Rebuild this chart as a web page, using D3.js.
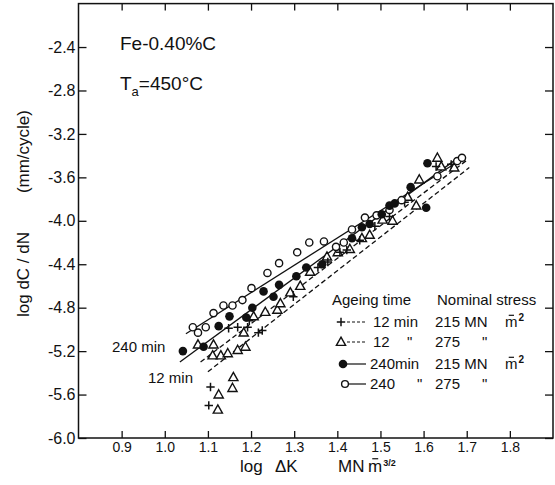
<!DOCTYPE html>
<html>
<head>
<meta charset="utf-8">
<script src="https://cdn.jsdelivr.net/npm/d3@7"></script>
<style>
  body { margin: 0; background: #fff; }
  text { font-family: "Liberation Sans", Arial, sans-serif; fill: #111; }
</style>
</head>
<body>
<div id="chart"></div>
<script>
// Fe-0.40%C aged at 450 C : log dC/dN (mm/cycle) against log dK (MN m^-3/2)
const xTicks = [0.9, 1.0, 1.1, 1.2, 1.3, 1.4, 1.5, 1.6, 1.7, 1.8];
const yTicks = [-2.4, -2.8, -3.2, -3.6, -4.0, -4.4, -4.8, -5.2, -5.6, -6.0];

// [log dK, log dC/dN]
const plus12 = [ // 12 min, 215 MN m-2
  [1.106, -5.53], [1.102, -5.70], [1.148, -4.99], [1.169, -4.98], [1.192, -4.98],
  [1.196, -4.92], [1.217, -5.03], [1.226, -5.01], [1.298, -4.70], [1.355, -4.43],
  [1.378, -4.38], [1.406, -4.29], [1.422, -4.27], [1.452, -4.18], [1.487, -4.05],
  [1.521, -3.96], [1.556, -3.83], [1.629, -3.50], [1.664, -3.48]
];
const tri12 = [ // 12 min, 275 MN m-2
  [1.077, -5.14], [1.113, -5.14], [1.111, -5.24], [1.130, -5.24], [1.146, -5.22],
  [1.169, -5.19], [1.187, -5.16], [1.183, -5.03], [1.206, -4.88], [1.233, -4.84],
  [1.261, -4.82], [1.268, -4.76], [1.291, -4.66], [1.314, -4.60], [1.337, -4.47],
  [1.376, -4.33], [1.401, -4.29], [1.429, -4.26], [1.457, -4.16], [1.475, -4.13],
  [1.505, -3.99], [1.528, -4.00], [1.563, -3.78], [1.583, -3.86], [1.590, -3.62],
  [1.632, -3.42], [1.641, -3.50], [1.671, -3.51],
  [1.159, -5.44], [1.157, -5.54], [1.125, -5.60], [1.123, -5.74]
];
const dot240 = [ // 240 min, 215 MN m-2
  [1.042, -5.20], [1.090, -5.16], [1.125, -4.97], [1.150, -4.88], [1.189, -4.89],
  [1.203, -4.80], [1.229, -4.65], [1.252, -4.70], [1.265, -4.59], [1.305, -4.51],
  [1.328, -4.43], [1.365, -4.40], [1.434, -4.16], [1.457, -4.06], [1.475, -4.03],
  [1.503, -3.94], [1.521, -3.86], [1.533, -3.84], [1.570, -3.69], [1.606, -3.88],
  [1.609, -3.47]
];
const ring240 = [ // 240 min, 275 MN m-2
  [1.065, -4.98], [1.077, -5.03], [1.095, -4.98], [1.113, -4.85], [1.136, -4.78],
  [1.157, -4.78], [1.180, -4.73], [1.201, -4.62], [1.238, -4.48], [1.265, -4.39],
  [1.307, -4.29], [1.335, -4.20], [1.369, -4.19], [1.397, -4.24], [1.415, -4.20],
  [1.434, -4.08], [1.464, -3.97], [1.491, -3.95], [1.521, -3.90], [1.549, -3.81],
  [1.632, -3.59], [1.678, -3.45], [1.689, -3.42]
];

// fitted lines, end points
const fit240_275 = [[1.049, -5.04], [1.694, -3.42]];
const fit240_215 = [[1.035, -5.30], [1.687, -3.40]];
const fit12_215 = [[1.083, -5.30], [1.701, -3.44]];
const fit12_275 = [[1.100, -5.39], [1.706, -3.51]];

const ink = "#111";

const svg = d3.select("#chart").append("svg")
  .attr("width", 555).attr("height", 485);

const x = d3.scaleLinear().domain([0.8, 1.9]).range([78.5, 553]);
const y = d3.scaleLinear().domain([-6.0, -2.0]).range([438, 3.6]);

function styleAxis(g, size) {
  g.select(".domain").remove();
  g.selectAll(".tick line").attr("stroke", ink).attr("stroke-width", 1.3);
  g.selectAll(".tick text").attr("fill", ink)
    .style("font-size", size + "px")
    .style("font-family", '"Liberation Sans", Arial, sans-serif');
}

// axes, ticks pointing inward on all four sides
svg.append("g").attr("transform", `translate(${x(0.8)},0)`)
  .call(d3.axisLeft(y).tickValues(yTicks).tickSize(-8).tickPadding(3).tickFormat(d => d.toFixed(1)))
  .call(g => styleAxis(g, 16));
svg.append("g").attr("transform", `translate(${x(1.9)},0)`)
  .call(d3.axisRight(y).tickValues(yTicks).tickSize(-8).tickFormat(""))
  .call(g => styleAxis(g, 16));
svg.append("g").attr("transform", `translate(0,${y(-6.0)})`)
  .call(d3.axisBottom(x).tickValues(xTicks).tickSize(-7).tickPadding(4).tickFormat(d => d.toFixed(1)))
  .call(g => styleAxis(g, 14));
svg.append("g").attr("transform", `translate(0,${y(-2.0)})`)
  .call(d3.axisTop(x).tickValues(xTicks).tickSize(-7).tickFormat(""))
  .call(g => styleAxis(g, 14));

svg.append("rect")
  .attr("x", x(0.8)).attr("y", y(-2.0))
  .attr("width", x(1.9) - x(0.8)).attr("height", y(-6.0) - y(-2.0))
  .attr("fill", "none").attr("stroke", ink).attr("stroke-width", 1.5);

// fit lines
const line = d3.line().x(d => x(d[0])).y(d => y(d[1]));
const fits = [
  {pts: fit240_275, dash: null},
  {pts: fit240_215, dash: null},
  {pts: fit12_215, dash: "5,3"},
  {pts: fit12_275, dash: "5,3"}
];
svg.selectAll(".fit").data(fits).join("path")
  .attr("class", "fit")
  .attr("d", d => line(d.pts))
  .attr("fill", "none").attr("stroke", ink).attr("stroke-width", 1.3)
  .attr("stroke-dasharray", d => d.dash);

// markers
const triPath = "M0,-4.8L4.6,3.4L-4.6,3.4Z";
const plusPath = "M-4.2,0H4.2M0,-4.2V4.2";

svg.append("g").selectAll("path").data(tri12).join("path")
  .attr("transform", d => `translate(${x(d[0])},${y(d[1])})`)
  .attr("d", triPath).attr("fill", "#fff").attr("stroke", ink).attr("stroke-width", 1.4);
svg.append("g").selectAll("path").data(plus12).join("path")
  .attr("transform", d => `translate(${x(d[0])},${y(d[1])})`)
  .attr("d", plusPath).attr("fill", "none").attr("stroke", ink).attr("stroke-width", 1.5);
svg.append("g").selectAll("circle").data(ring240).join("circle")
  .attr("cx", d => x(d[0])).attr("cy", d => y(d[1])).attr("r", 3.6)
  .attr("fill", "#fff").attr("stroke", ink).attr("stroke-width", 1.4);
svg.append("g").selectAll("circle").data(dot240).join("circle")
  .attr("cx", d => x(d[0])).attr("cy", d => y(d[1])).attr("r", 4.3)
  .attr("fill", ink);

// m with a bar (negative power) and a superscript
function mUnit(sel, px, py, size, sup, supSize) {
  const t = sel.append("text").attr("x", px).attr("y", py).style("font-size", size + "px").text("m");
  const w = t.node().getComputedTextLength();
  sel.append("line")
    .attr("x1", px + w * 0.3).attr("x2", px + w * 0.72)
    .attr("y1", py - size * 0.78).attr("y2", py - size * 0.78)
    .attr("stroke", ink).attr("stroke-width", 1.2);
  sel.append("text").attr("x", px + w + 1).attr("y", py - size * 0.38)
    .style("font-size", supSize + "px").style("font-weight", "bold").text(sup);
}

// title block
svg.append("text").attr("x", 120).attr("y", 50).style("font-size", "19px").text("Fe-0.40%C");
const ta = svg.append("text").attr("x", 120).attr("y", 90).style("font-size", "19px");
ta.append("tspan").text("T");
ta.append("tspan").attr("dy", 6).style("font-size", "13px").text("a");
ta.append("tspan").attr("dy", -6).text("=450°C");

svg.append("text").attr("x", 112).attr("y", 352).style("font-size", "15px").text("240 min");
svg.append("text").attr("x", 148).attr("y", 383).style("font-size", "15px").text("12 min");

// axis titles
svg.append("text").attr("transform", "translate(29,317) rotate(-90)")
  .style("font-size", "17px").text("log dC / dN");
svg.append("text").attr("transform", "translate(29,110) rotate(-90)")
  .attr("text-anchor", "end").style("font-size", "17px").text("(mm/cycle)");

svg.append("text").attr("x", 240).attr("y", 472).style("font-size", "17px").text("log");
svg.append("text").attr("x", 275).attr("y", 472).style("font-size", "17px").text("ΔK");
svg.append("text").attr("x", 338).attr("y", 472).style("font-size", "17px").text("MN");
mUnit(svg, 368, 472, 17, "3/2", 9);

// legend
const leg = svg.append("g").style("font-size", "15px");
leg.append("text").attr("x", 332).attr("y", 305).text("Ageing time");
leg.append("text").attr("x", 437).attr("y", 305).text("Nominal stress");

const rows = [
  {y: 327, mark: "plus", dash: "3,2", age: "12 min", stress: "215 MN", unit: true},
  {y: 347, mark: "tri", dash: "3,2", age: "12", ditto1: 407, stress: "275", unit: false},
  {y: 369, mark: "dot", dash: null, age: "240min", stress: "215 MN", unit: true},
  {y: 389, mark: "ring", dash: null, age: "240", ditto1: 417, stress: "275", unit: false}
];
rows.forEach(r => {
  const my = r.y - 5;
  leg.append("line").attr("x1", 347).attr("x2", 366).attr("y1", my).attr("y2", my)
    .attr("stroke", ink).attr("stroke-width", 1.2).attr("stroke-dasharray", r.dash);
  if (r.mark === "plus") leg.append("path").attr("transform", `translate(341,${my})`).attr("d", plusPath)
    .attr("stroke", ink).attr("stroke-width", 1.5);
  if (r.mark === "tri") leg.append("path").attr("transform", `translate(341,${my})`).attr("d", triPath)
    .attr("fill", "#fff").attr("stroke", ink).attr("stroke-width", 1.4);
  if (r.mark === "dot") leg.append("circle").attr("cx", 343).attr("cy", my).attr("r", 4.3).attr("fill", ink);
  if (r.mark === "ring") leg.append("circle").attr("cx", 345).attr("cy", my).attr("r", 3.4)
    .attr("fill", "#fff").attr("stroke", ink).attr("stroke-width", 1.4);
  leg.append("text").attr("x", r.age.startsWith("12") ? 373 : 370).attr("y", r.y).text(r.age);
  if (r.ditto1) leg.append("text").attr("x", r.ditto1).attr("y", r.y).style("font-size", "15px").text("\"");
  leg.append("text").attr("x", 435).attr("y", r.y).text(r.stress);
  if (r.unit) mUnit(leg, 505, r.y, 15, "2", 10);
  else leg.append("text").attr("x", 482).attr("y", r.y).style("font-size", "15px").text("\"");
});
</script>
</body>
</html>
